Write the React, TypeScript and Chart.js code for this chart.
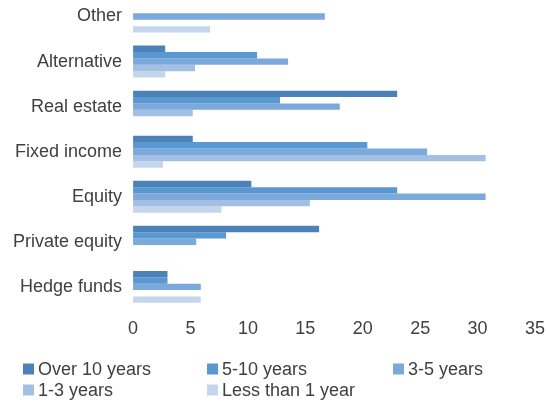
import React, { useEffect, useRef } from "react";
import { Chart, registerables } from "chart.js";

Chart.register(...registerables);

const categories = ["Other", "Alternative", "Real estate", "Fixed income", "Equity", "Private equity", "Hedge funds"];
const seriesNames = ["Over 10 years", "5-10 years", "3-5 years", "1-3 years", "Less than 1 year"];
const over10 = [null, 2.8, 23.0, 5.2, 10.3, 16.2, 3.0];
const fiveTo10 = [null, 10.8, 12.8, 20.4, 23.0, 8.1, 3.0];
const threeTo5 = [16.7, 13.5, 18.0, 25.6, 30.7, 5.5, 5.9];
const oneTo3 = [null, 5.4, 5.2, 30.7, 15.4, null, null];
const lessThan1 = [6.7, 2.8, null, 2.6, 7.7, null, 5.9];
const xTicks = [0, 5, 10, 15, 20, 25, 30, 35];

const colors = ["#4D82B8", "#5A98D2", "#7CA9DB", "#A3C0E4", "#C5D6EC"];
const FONT = "'Liberation Sans', Arial, sans-serif";
const TEXT = "#404040";

const legendPlugin = {
  id: "gridLegend",
  afterDraw(chart: any) {
    const ctx = chart.ctx;
    const cols = [23, 207, 393];
    const rows = [375, 396];
    ctx.save();
    ctx.font = `18px ${FONT}`;
    ctx.textBaseline = "middle";
    ctx.textAlign = "left";
    chart.data.datasets.forEach((ds: any, i: number) => {
      const cx = cols[i % 3];
      const cy = rows[Math.floor(i / 3)];
      ctx.fillStyle = ds.backgroundColor;
      ctx.fillRect(cx, cy - 5.5, 11, 11);
      ctx.fillStyle = TEXT;
      ctx.fillText(ds.label, cx + 15, cy + 1);
    });
    ctx.restore();
  },
};

export default function App() {
  const ref = useRef<HTMLCanvasElement | null>(null);
  useEffect(() => {
    if (!ref.current) return;
    const seriesData = [over10, fiveTo10, threeTo5, oneTo3, lessThan1];
    const chart = new Chart(ref.current, {
      type: "bar",
      data: {
        labels: categories,
        datasets: seriesNames.map((name, i) => ({
          label: name,
          data: seriesData[i] as any,
          backgroundColor: colors[i],
          borderWidth: 0,
          barPercentage: 1,
          categoryPercentage: 0.71,
        })),
      },
      options: {
        indexAxis: "y",
        animation: false,
        responsive: true,
        maintainAspectRatio: false,
        layout: { padding: { top: 0, left: 2, right: 12, bottom: 56 } },
        plugins: { legend: { display: false }, tooltip: { enabled: false } },
        scales: {
          x: {
            type: "linear",
            min: 0,
            max: 35,
            afterBuildTicks: (scale: any) => {
              scale.ticks = xTicks.map((v) => ({ value: v }));
            },
            afterFit: (scale: any) => {
              scale.paddingLeft = 0;
              scale.paddingRight = 0;
            },
            grid: { display: false, drawTicks: false },
            border: { display: false },
            ticks: { color: TEXT, font: { family: FONT, size: 18 }, padding: 9 },
          },
          y: {
            afterFit: (scale: any) => {
              scale.paddingTop = 0;
              scale.paddingBottom = 0;
            },
            grid: { display: false, drawTicks: false },
            border: { display: false },
            ticks: { color: TEXT, font: { family: FONT, size: 18 }, padding: 11 },
          },
        },
      },
      plugins: [legendPlugin],
    });
    return () => chart.destroy();
  }, []);
  return (
    <div style={{ position: "fixed", left: 0, top: -6, width: 547, height: 411, background: "#fff" }}>
      <canvas ref={ref} />
    </div>
  );
}
